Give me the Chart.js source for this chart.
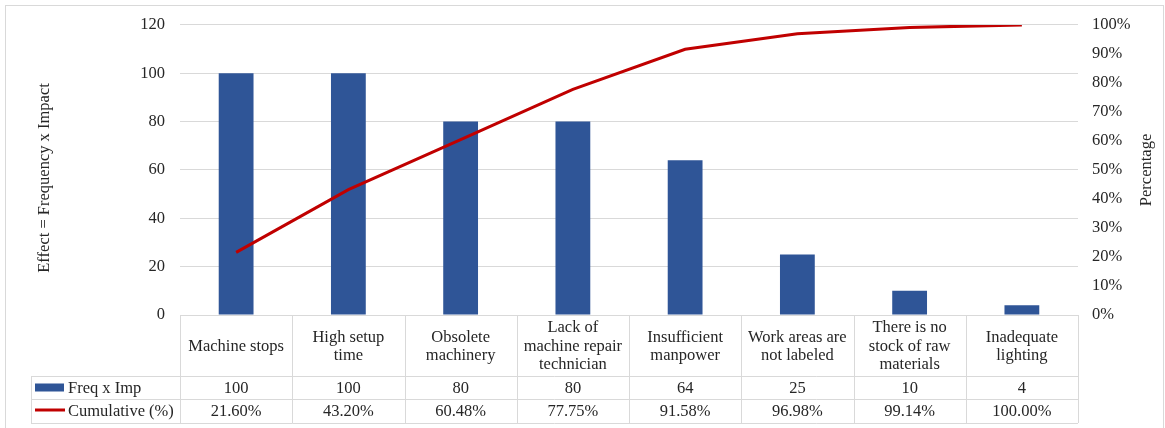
<!DOCTYPE html>
<html>
<head>
<meta charset="utf-8">
<script src="https://cdn.jsdelivr.net/npm/chart.js@4/dist/chart.umd.min.js"></script>
<style>
  body { margin: 0; background: #fff; }
  canvas { display: block; }
</style>
</head>
<body>
<canvas id="paretoChart" width="1165" height="428"></canvas>
<script>
// chart data
const categories = [
  ['Machine stops'],
  ['High setup', 'time'],
  ['Obsolete', 'machinery'],
  ['Lack of', 'machine repair', 'technician'],
  ['Insufficient', 'manpower'],
  ['Work areas are', 'not labeled'],
  ['There is no', 'stock of raw', 'materials'],
  ['Inadequate', 'lighting']
];
const freqImpact = [100, 100, 80, 80, 64, 25, 10, 4];
const cumulative = [21.60, 43.20, 60.48, 77.75, 91.58, 96.98, 99.14, 100.00];
const seriesNames = ['Freq x Imp', 'Cumulative (%)'];
const axisTitles = ['Effect = Frequency x Impact', 'Percentage'];

const FONT = '"Liberation Serif", "Times New Roman", serif';
const FONT_SIZE = 16.5;
const TEXT = '#262626';
const LINE_GRID = '#d9d9d9';
const BAR_COLOR = '#2f5597';
const CUM_COLOR = '#c00000';

// white background + outer frame
const frame = {
  id: 'frame',
  beforeDraw(chart) {
    const ctx = chart.ctx;
    ctx.save();
    ctx.fillStyle = '#fff';
    ctx.fillRect(0, 0, chart.width, chart.height);
    ctx.strokeStyle = LINE_GRID;
    ctx.lineWidth = 1;
    ctx.strokeRect(5.5, 5.5, chart.width - 7, chart.height - 5);
    ctx.restore();
  }
};

// both axis titles read bottom-to-top, like Excel
const axisTitlePlugin = {
  id: 'axisTitles',
  afterDraw(chart) {
    const ctx = chart.ctx;
    const area = chart.chartArea;
    const mid = (area.top + area.bottom) / 2;
    ctx.save();
    ctx.fillStyle = TEXT;
    ctx.font = FONT_SIZE + 'px ' + FONT;
    ctx.textAlign = 'center';
    ctx.textBaseline = 'middle';
    [[45, mid + 8, axisTitles[0]], [1147, mid, axisTitles[1]]].forEach(([x, y, t]) => {
      ctx.save();
      ctx.translate(x, y);
      ctx.rotate(-Math.PI / 2);
      ctx.fillText(t, 0, 0);
      ctx.restore();
    });
    ctx.restore();
  }
};

// Excel style data table under the plot
const dataTable = {
  id: 'dataTable',
  afterDraw(chart) {
    const ctx = chart.ctx;
    const area = chart.chartArea;
    const xs = chart.scales.x;
    const half = (area.right - area.left) / categories.length / 2;
    const top = area.bottom;
    const catBottom = top + 61;
    const row1Bottom = catBottom + 23;
    const row2Bottom = row1Bottom + 24;
    const tableLeft = 31;

    ctx.save();
    ctx.strokeStyle = LINE_GRID;
    ctx.lineWidth = 1;
    ctx.beginPath();
    // horizontal lines
    ctx.moveTo(area.left, top + 0.5); ctx.lineTo(area.right, top + 0.5);
    [catBottom, row1Bottom, row2Bottom].forEach(y => {
      ctx.moveTo(tableLeft, y + 0.5); ctx.lineTo(area.right, y + 0.5);
    });
    // vertical lines
    ctx.moveTo(tableLeft + 0.5, catBottom); ctx.lineTo(tableLeft + 0.5, row2Bottom);
    for (let i = 0; i <= categories.length; i++) {
      const x = Math.round(area.left + i * half * 2) + 0.5;
      ctx.moveTo(x, top); ctx.lineTo(x, row2Bottom);
    }
    ctx.stroke();

    ctx.fillStyle = TEXT;
    ctx.font = FONT_SIZE + 'px ' + FONT;
    ctx.textAlign = 'center';
    ctx.textBaseline = 'middle';
    const lh = 18.5;
    categories.forEach((lines, i) => {
      const cx = xs.getPixelForValue(i);
      const cy = (top + catBottom) / 2 + 1;
      lines.forEach((t, k) => {
        ctx.fillText(t, cx, cy + (k - (lines.length - 1) / 2) * lh);
      });
      ctx.fillText(String(freqImpact[i]), cx, (catBottom + row1Bottom) / 2 + 1);
      ctx.fillText(cumulative[i].toFixed(2) + '%', cx, (row1Bottom + row2Bottom) / 2 + 1);
    });

    // legend keys
    const y1 = (catBottom + row1Bottom) / 2;
    const y2 = (row1Bottom + row2Bottom) / 2;
    ctx.fillStyle = BAR_COLOR;
    ctx.fillRect(35, y1 - 4, 29, 8);
    ctx.strokeStyle = CUM_COLOR;
    ctx.lineWidth = 3;
    ctx.beginPath();
    ctx.moveTo(35, y2 - 1); ctx.lineTo(65, y2 - 1);
    ctx.stroke();
    ctx.fillStyle = TEXT;
    ctx.textAlign = 'left';
    ctx.fillText(seriesNames[0], 68, y1 + 1);
    ctx.fillText(seriesNames[1], 68, y2 + 1);
    ctx.restore();
  }
};

new Chart(document.getElementById('paretoChart'), {
  data: {
    labels: categories,
    datasets: [
      {
        type: 'line',
        label: seriesNames[1],
        data: cumulative,
        yAxisID: 'y1',
        borderColor: CUM_COLOR,
        borderWidth: 3,
        pointRadius: 0,
        tension: 0,
        order: 1
      },
      {
        type: 'bar',
        label: seriesNames[0],
        data: freqImpact,
        yAxisID: 'y',
        backgroundColor: BAR_COLOR,
        barPercentage: 0.31,
        categoryPercentage: 1,
        order: 2
      }
    ]
  },
  options: {
    responsive: false,
    animation: false,
    layout: { padding: { top: 23, bottom: 113, left: 0, right: 0 } },
    plugins: {
      legend: { display: false },
      tooltip: { enabled: false }
    },
    scales: {
      x: { display: false },
      y: {
        position: 'left',
        min: 0,
        max: 120,
        ticks: { stepSize: 20, padding: 15, color: TEXT, font: { family: FONT, size: FONT_SIZE } },
        grid: { color: LINE_GRID, drawTicks: false },
        border: { display: false },
        afterFit(scale) { scale.width = 180; }
      },
      y1: {
        position: 'right',
        min: 0,
        max: 100,
        ticks: {
          stepSize: 10,
          padding: 14,
          color: TEXT,
          font: { family: FONT, size: FONT_SIZE },
          callback: v => v + '%'
        },
        grid: { display: false, drawTicks: false },
        border: { display: false },
        afterFit(scale) { scale.width = 87; }
      }
    }
  },
  plugins: [frame, dataTable, axisTitlePlugin]
});
</script>
</body>
</html>
